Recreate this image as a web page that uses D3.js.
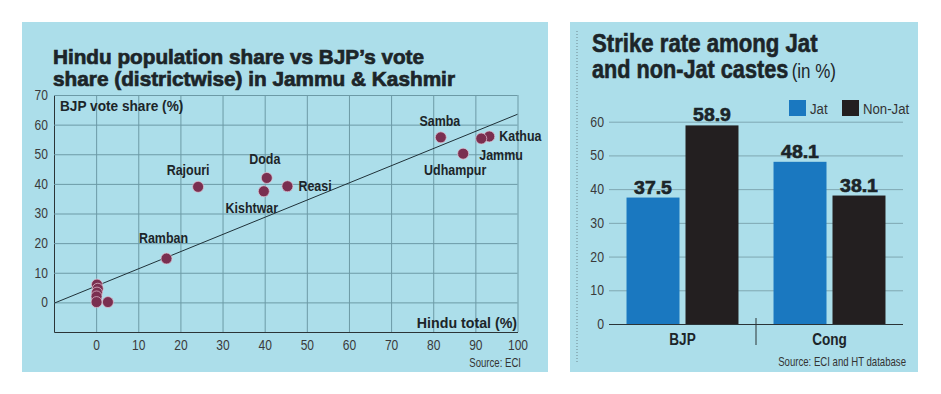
<!DOCTYPE html>
<html>
<head>
<meta charset="utf-8">
<script src="https://cdn.jsdelivr.net/npm/d3@7/dist/d3.min.js"></script>
<style>
  body { margin: 0; background: #fff; }
  svg { display: block; }
  text { font-family: "Liberation Sans", Arial, sans-serif; }
</style>
</head>
<body>
<div id="graf"></div>
<script>
// I. Datos
// a. Dispersión: población hindú vs voto BJP
distritos   = ['Kathua', 'Jammu', 'Samba', 'Udhampur', 'Reasi', 'Doda', 'Kishtwar', 'Rajouri', 'Ramban', 'd1', 'd2', 'd3', 'd4', 'd5', 'd6']
hinduTotal  = [93.3, 91.4, 81.8, 87.1, 45.4, 40.5, 39.8, 24.2, 16.7, 0.2, 0.4, 0.2, 0.1, 0.1, 2.8]
bjpVoto     = [56.0, 55.3, 55.7, 50.2, 39.2, 42.0, 37.5, 39.0, 14.8, 6.0, 4.6, 3.3, 2.0, 0.1, 0.1]
tendenciaX  = [-10, 100]
tendenciaY  = [-0.3, 63.5]
xTicks      = [0, 10, 20, 30, 40, 50, 60, 70, 80, 90, 100]
yTicks      = [0, 10, 20, 30, 40, 50, 60, 70]

// b. Barras: strike rate
partidos    = ['BJP', 'Cong']
castas      = ['Jat', 'Non-Jat']
tasaJat     = [37.5, 48.1]
tasaNoJat   = [58.9, 38.1]
barTicks    = [0, 10, 20, 30, 40, 50, 60]

// II. Configuración
fondo = '#acdeea'
tinta = '#1c2529'

// la tipografía original es condensada: se comprime en horizontal
function angosto(sel, k) {
  sel.each(function() {
    t = d3.select(this)
    tx = +t.attr('x') || 0
    ty = +t.attr('y') || 0
    t.attr('x', 0).attr('y', 0)
     .attr('transform', `translate(${ tx }, ${ ty }) scale(${ k }, 1)`)
  })
  return sel
}

svg = d3.select('#graf')
        .append('svg')
        .attr('width', 941)
        .attr('height', 394)

svg.append('rect').attr('width', 941).attr('height', 394).attr('fill', '#fff')

// paneles
svg.append('rect').attr('x', 22).attr('y', 22).attr('width', 526).attr('height', 350).attr('fill', fondo)
svg.append('rect').attr('x', 570).attr('y', 22).attr('width', 348).attr('height', 350).attr('fill', fondo)

// III. Gráfica izquierda
izq = svg.append('g')

izq.append('text')
   .attr('x', 53).attr('y', 64)
   .attr('font-size', 20.5).attr('font-weight', 'bold')
   .attr('fill', tinta).attr('stroke', tinta).attr('stroke-width', 0.7)
   .attr('textLength', 371).attr('lengthAdjust', 'spacingAndGlyphs')
   .text('Hindu population share vs BJP’s vote')
izq.append('text')
   .attr('x', 53).attr('y', 86)
   .attr('font-size', 20.5).attr('font-weight', 'bold')
   .attr('fill', tinta).attr('stroke', tinta).attr('stroke-width', 0.7)
   .attr('textLength', 402).attr('lengthAdjust', 'spacingAndGlyphs')
   .text('share (districtwise) in Jammu & Kashmir')

x = d3.scaleLinear()
      .domain([-10, 100])
      .range([54, 517.5])
y = d3.scaleLinear()
      .domain([-10, 70])
      .range([332, 95])

// ejes con rejilla
xAxisGroup = izq.append('g')
                .attr('transform', `translate(0, ${ y(-10) })`)
                .call(d3.axisBottom(x)
                        .tickValues(xTicks)
                        .tickSize(-(y(-10) - y(70)))
                        .tickSizeOuter(0)
                        .tickPadding(8))
yAxisGroup = izq.append('g')
                .attr('transform', `translate(${ x(-10) }, 0)`)
                .call(d3.axisLeft(y)
                        .tickValues(yTicks)
                        .tickSize(-(x(100) - x(-10)))
                        .tickSizeOuter(0)
                        .tickPadding(6))

;[xAxisGroup, yAxisGroup].forEach(gr => {
  gr.selectAll('.tick line').attr('stroke', '#6c9aa6').attr('stroke-width', 1)
  gr.select('.domain').attr('stroke', '#2b3437').attr('stroke-width', 1)
  gr.selectAll('.tick text')
    .attr('font-size', 14)
    .attr('fill', '#3a3a3a')
    .style('font-family', '"Liberation Sans", Arial, sans-serif')
    .call(angosto, 0.86)
})

// línea de tendencia
linea = d3.line()
          .x(d => x(d[0]))
          .y(d => y(d[1]))
izq.append('path')
   .datum(d3.zip(tendenciaX, tendenciaY))
   .attr('d', linea)
   .attr('fill', 'none')
   .attr('stroke', '#1f3138')
   .attr('stroke-width', 1)

// puntos
puntos = distritos.map((d, i) => ({ nombre: d, hindu: hinduTotal[i], bjp: bjpVoto[i] }))

izq.selectAll('circle')
   .data(puntos)
   .enter()
   .append('circle')
     .attr('cx', d => x(d.hindu))
     .attr('cy', d => y(d.bjp))
     .attr('r', 5.5)
     .attr('fill', '#7a2f50')
     .attr('stroke', '#e2c4d4')
     .attr('stroke-width', 0.7)

// etiquetas (desplazamientos en px)
etiq = {
  'Rajouri':  { dx: -10, dy: -12, a: 'middle' },
  'Doda':     { dx: -2,  dy: -14, a: 'middle' },
  'Kishtwar': { dx: -12, dy: 22,  a: 'middle' },
  'Reasi':    { dx: 11,  dy: 5,   a: 'start' },
  'Ramban':   { dx: -3,  dy: -16, a: 'middle' },
  'Samba':    { dx: -1,  dy: -11, a: 'middle' },
  'Kathua':   { dx: 10,  dy: 5,   a: 'start' },
  'Jammu':    { dx: -2,  dy: 21,  a: 'start' },
  'Udhampur': { dx: -8,  dy: 21,  a: 'middle' }
}

izq.selectAll('text.etiqueta')
   .data(puntos.filter(d => etiq[d.nombre]))
   .enter()
   .append('text')
     .attr('class', 'etiqueta')
     .attr('x', d => x(d.hindu) + etiq[d.nombre].dx)
     .attr('y', d => y(d.bjp) + etiq[d.nombre].dy)
     .attr('text-anchor', d => etiq[d.nombre].a)
     .attr('font-size', 15)
     .attr('font-weight', 'bold')
     .attr('fill', tinta)
     .text(d => d.nombre)
     .call(angosto, 0.83)

izq.append('text')
   .attr('x', 60).attr('y', 111)
   .attr('font-size', 15).attr('font-weight', 'bold')
   .attr('fill', tinta)
   .text('BJP vote share (%)')
   .call(angosto, 0.91)

izq.append('text')
   .attr('x', 517).attr('y', 328)
   .attr('text-anchor', 'end')
   .attr('font-size', 14.5).attr('font-weight', 'bold')
   .attr('fill', tinta)
   .text('Hindu total (%)')
   .call(angosto, 0.98)

izq.append('text')
   .attr('x', 521).attr('y', 367)
   .attr('text-anchor', 'end')
   .attr('font-size', 12)
   .attr('fill', '#333')
   .text('Source: ECI')
   .call(angosto, 0.8)

// IV. Gráfica derecha
der = svg.append('g')

// borde punteado
der.append('line')
   .attr('x1', 577).attr('x2', 577)
   .attr('y1', 31).attr('y2', 364)
   .attr('stroke', '#6f8890')
   .attr('stroke-width', 1)
   .attr('stroke-dasharray', '1,2')

der.append('text')
   .attr('x', 592).attr('y', 52)
   .attr('font-size', 25.5).attr('font-weight', 'bold')
   .attr('fill', tinta).attr('stroke', tinta).attr('stroke-width', 0.6)
   .text('Strike rate among Jat')
   .call(angosto, 0.87)
t2 = der.append('text')
   .attr('x', 592).attr('y', 78)
   .attr('font-size', 25.5).attr('font-weight', 'bold')
   .attr('fill', tinta)
t2.append('tspan').attr('stroke', tinta).attr('stroke-width', 0.6).text('and non-Jat castes')
t2.append('tspan').attr('font-weight', 'normal').attr('font-size', 20).attr('dx', 4).text('(in %)')
angosto(t2, 0.85)

x0 = d3.scaleBand()
       .domain(partidos)
       .range([609, 903])
x1 = d3.scaleBand()
       .domain(castas)
       .range([0, x0.bandwidth()])
       .paddingInner(0.102)
       .paddingOuter(0.297)
y2 = d3.scaleLinear()
       .domain([0, 60])
       .range([324, 121.7])
color = d3.scaleOrdinal()
          .domain(castas)
          .range(['#1a78c0', '#231f20'])

barAxis = der.append('g')
             .attr('transform', `translate(609, 0)`)
             .call(d3.axisLeft(y2)
                     .tickValues(barTicks)
                     .tickSize(-294)
                     .tickPadding(5))
barAxis.select('.domain').remove()
barAxis.selectAll('.tick line')
       .attr('stroke', d => d === 0 ? '#2b3437' : '#7fa7b2')
       .attr('stroke-width', 1)
barAxis.selectAll('.tick text')
       .attr('font-size', 14)
       .attr('fill', '#3a3a3a')
       .style('font-family', '"Liberation Sans", Arial, sans-serif')
       .call(angosto, 0.88)

barras = []
partidos.forEach((p, i) => {
  barras.push({ partido: p, casta: 'Jat', valor: tasaJat[i] })
  barras.push({ partido: p, casta: 'Non-Jat', valor: tasaNoJat[i] })
})

der.selectAll('rect.barra')
   .data(barras)
   .enter()
   .append('rect')
     .attr('class', 'barra')
     .attr('x', d => x0(d.partido) + x1(d.casta))
     .attr('y', d => y2(d.valor))
     .attr('width', x1.bandwidth())
     .attr('height', d => y2(0) - y2(d.valor))
     .attr('fill', d => color(d.casta))

der.selectAll('text.valor')
   .data(barras)
   .enter()
   .append('text')
     .attr('class', 'valor')
     .attr('x', d => x0(d.partido) + x1(d.casta) + x1.bandwidth() / 2)
     .attr('y', d => y2(d.valor) - 4)
     .attr('text-anchor', 'middle')
     .attr('font-size', 18)
     .attr('font-weight', 'bold')
     .attr('fill', tinta).attr('stroke', tinta).attr('stroke-width', 0.6)
     .text(d => d.valor)
     .call(angosto, 1.08)

// eje de categorías
der.selectAll('text.partido')
   .data(partidos)
   .enter()
   .append('text')
     .attr('class', 'partido')
     .attr('x', d => x0(d) + x0.bandwidth() / 2)
     .attr('y', 345)
     .attr('text-anchor', 'middle')
     .attr('font-size', 17)
     .attr('font-weight', 'bold')
     .attr('fill', tinta)
     .text(d => d)
     .call(angosto, 0.8)

der.append('line')
   .attr('x1', x0('Cong')).attr('x2', x0('Cong'))
   .attr('y1', 318).attr('y2', 345)
   .attr('stroke', '#2b3437')
   .attr('stroke-width', 1)

// leyenda
ley = der.selectAll('g.ley')
         .data(castas)
         .enter()
         .append('g')
           .attr('class', 'ley')
           .attr('transform', (d, i) => `translate(${ [789, 842][i] }, 100)`)
ley.append('rect')
   .attr('width', 17).attr('height', 16)
   .attr('fill', d => color(d))
ley.append('text')
   .attr('x', 21).attr('y', 14)
   .attr('font-size', 15)
   .attr('fill', '#333')
   .text(d => d)
   .call(angosto, 0.88)

der.append('text')
   .attr('x', 906).attr('y', 366)
   .attr('text-anchor', 'end')
   .attr('font-size', 12)
   .attr('fill', '#333')
   .text('Source: ECI and HT database')
   .call(angosto, 0.8)
</script>
</body>
</html>
